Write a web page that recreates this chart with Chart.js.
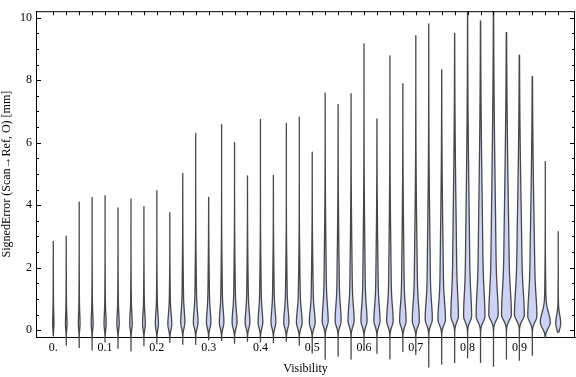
<!DOCTYPE html>
<html>
<head>
<meta charset="utf-8">
<script src="https://cdn.jsdelivr.net/npm/chart.js@4.4.0/dist/chart.umd.min.js"></script>
<style>
  html, body { margin: 0; padding: 0; background: #fff; }
</style>
</head>
<body>
<canvas id="chart" width="576" height="377"></canvas>
<script>
// Visibility bins, one violin each
const bins = [0.000, 0.025, 0.050, 0.075, 0.100, 0.125, 0.150, 0.175, 0.200, 0.225,
              0.250, 0.275, 0.300, 0.325, 0.350, 0.375, 0.400, 0.425, 0.450, 0.475,
              0.500, 0.525, 0.550, 0.575, 0.600, 0.625, 0.650, 0.675, 0.700, 0.725,
              0.750, 0.775, 0.800, 0.825, 0.850, 0.875, 0.900, 0.925, 0.950, 0.975];

// largest / smallest signed error per bin [mm]
const maxErr = [2.84, 3.01, 4.10, 4.24, 4.30, 3.91, 4.20, 3.95, 4.46, 3.76,
                5.02, 6.30, 4.25, 6.58, 6.01, 4.94, 6.75, 4.95, 6.62, 6.82,
                5.70, 7.59, 7.23, 7.57, 9.16, 6.76, 8.78, 7.89, 9.43, 9.80,
                8.34, 9.50, 10.6, 9.90, 10.5, 9.53, 8.80, 8.12, 5.39, 3.15];
const minErr = [-0.20, -0.50, -0.57, -0.65, -0.40, -0.60, -0.68, -0.52, -0.45, -0.40,
                -0.47, -0.48, -0.33, -0.35, -0.44, -0.37, -0.40, -0.42, -0.37, -0.50,
                -0.75, -0.95, -0.85, -0.94, -0.65, -0.76, -0.94, -0.70, -0.80, -1.20,
                -1.10, -1.05, -0.90, -1.05, -1.17, -0.94, -0.98, -0.82, -0.26, -0.08];

// density shape per bin: peak (relative), error at the peak, share of the long tail, spreads
const peakDensity = [0.10, 0.12, 0.13, 0.15, 0.16, 0.18, 0.19, 0.21, 0.24, 0.30,
                     0.32, 0.36, 0.34, 0.35, 0.38, 0.36, 0.36, 0.37, 0.40, 0.44,
                     0.45, 0.46, 0.46, 0.47, 0.47, 0.47, 0.50, 0.50, 0.54, 0.55,
                     0.58, 0.58, 0.62, 0.68, 0.72, 0.76, 0.76, 0.70, 0.77, 0.38];
const modeErr = [0.20, 0.20, 0.20, 0.20, 0.20, 0.20, 0.20, 0.20, 0.20, 0.20,
                 0.25, 0.25, 0.25, 0.25, 0.25, 0.25, 0.25, 0.25, 0.25, 0.25,
                 0.25, 0.30, 0.30, 0.30, 0.30, 0.30, 0.30, 0.30, 0.30, 0.35,
                 0.35, 0.45, 0.45, 0.45, 0.50, 0.50, 0.50, 0.45, 0.25, 0.22];
const tailShare = [0.35, 0.35, 0.35, 0.35, 0.35, 0.35, 0.35, 0.35, 0.35, 0.35,
                   0.40, 0.40, 0.40, 0.40, 0.40, 0.40, 0.40, 0.40, 0.40, 0.40,
                   0.40, 0.45, 0.45, 0.45, 0.45, 0.45, 0.45, 0.45, 0.50, 0.50,
                   0.50, 0.60, 0.60, 0.60, 0.60, 0.60, 0.60, 0.60, 0.15, 0.10];
const tailSpread = [1.0, 1.0, 1.0, 1.0, 1.0, 1.0, 1.0, 1.0, 1.0, 1.0,
                    1.5, 1.5, 1.5, 1.5, 1.5, 1.5, 1.5, 1.5, 1.5, 1.5,
                    1.6, 2.2, 2.2, 2.2, 2.4, 2.2, 2.4, 2.4, 2.6, 2.8,
                    2.8, 3.4, 3.6, 3.8, 4.0, 3.8, 3.4, 3.2, 1.2, 0.8];
const bulbSpread = [0.30, 0.30, 0.30, 0.30, 0.30, 0.30, 0.30, 0.30, 0.30, 0.30,
                    0.35, 0.35, 0.35, 0.35, 0.35, 0.35, 0.35, 0.35, 0.35, 0.35,
                    0.35, 0.45, 0.45, 0.45, 0.45, 0.45, 0.45, 0.45, 0.50, 0.50,
                    0.50, 0.65, 0.65, 0.70, 0.70, 0.70, 0.65, 0.60, 0.30, 0.25];

const xTicks = [0, 0.1, 0.2, 0.3, 0.4, 0.5, 0.6, 0.7, 0.8, 0.9];
const xTickLabels = ['0.', '0.1', '0.2', '0.3', '0.4', '0.5', '0.6', '0.7', '0.8', '0.9'];
const yTicks = [0, 2, 4, 6, 8, 10];

const BIN_HALF = 0.0125;   // half of the bin spacing, in visibility units
const LOW_SPREAD = 0.18;

function density(i, e) {
    const d = e - modeErr[i];
    if (d < 0) return peakDensity[i] * Math.exp(-0.5 * (d / LOW_SPREAD) ** 2);
    const t = tailShare[i];
    return peakDensity[i] * ((1 - t) * Math.exp(-0.5 * (d / bulbSpread[i]) ** 2) +
                             t * Math.exp(-0.5 * (d / tailSpread[i]) ** 2));
}

function violin(i) {
    const lo = minErr[i], hi = maxErr[i];
    const n = Math.ceil((hi - lo) / 0.04);
    const right = [], left = [];
    for (let k = 0; k <= n; k++) {
        const e = lo + (hi - lo) * k / n;
        const w = density(i, e) * BIN_HALF;
        right.push({x: bins[i] + w, y: e});
        left.unshift({x: bins[i] - w, y: e});
    }
    return right.concat(left);
}

// inward frame ticks, like the original frame
const frameTicks = {
    id: 'frameTicks',
    afterDraw(chart) {
        const {ctx, chartArea: a, scales: {x, y}} = chart;
        ctx.save();
        ctx.strokeStyle = '#000';
        ctx.lineWidth = 1;
        ctx.beginPath();
        ctx.moveTo(a.left, a.top + 0.5); ctx.lineTo(a.right, a.top + 0.5);
        ctx.moveTo(a.right - 0.5, a.top); ctx.lineTo(a.right - 0.5, a.bottom);
        for (let k = 0; k <= 20; k++) {
            const py = Math.round(y.getPixelForValue(k / 2)) + 0.5;
            const len = k % 4 === 0 ? 5 : 3;
            ctx.moveTo(a.left, py); ctx.lineTo(a.left + len, py);
            ctx.moveTo(a.right, py); ctx.lineTo(a.right - len, py);
        }
        bins.forEach(b => {
            const px = Math.round(x.getPixelForValue(b)) + 0.5;
            ctx.moveTo(px, a.top); ctx.lineTo(px, a.top + 4);
        });
        ctx.stroke();
        ctx.restore();
    }
};

const serif = {family: "'Liberation Serif', 'DejaVu Serif', serif", size: 12};

new Chart(document.getElementById('chart'), {
    type: 'scatter',
    data: {
        datasets: bins.map((b, i) => ({
            data: violin(i),
            showLine: true,
            pointRadius: 0,
            borderColor: '#484848',
            borderWidth: 1.3,
            backgroundColor: '#ccd3f5',
            fill: 'shape',
            tension: 0.05,
            capBezierPoints: false,
            clip: {left: false, right: false, bottom: false, top: 0}
        }))
    },
    options: {
        responsive: false,
        animation: false,
        devicePixelRatio: 1,
        events: [],
        layout: {padding: {top: 4, right: 1, left: 0, bottom: 0}},
        plugins: {legend: {display: false}, tooltip: {enabled: false}},
        scales: {
            x: {
                type: 'linear',
                min: -0.0334,
                max: 1.0074,
                bounds: 'data',
                afterBuildTicks: s => { s.ticks = xTicks.map(v => ({value: v})); },
                afterFit: s => { s.height = 40; },
                grid: {display: false, drawTicks: false},
                border: {display: true, color: '#000', width: 1},
                ticks: {
                    autoSkip: false, maxRotation: 0, padding: 4, color: '#000', font: serif,
                    callback: (v, idx) => xTickLabels[idx]
                },
                title: {display: true, text: 'Visibility', color: '#000', font: serif,
                        padding: {top: 0, bottom: 1}}
            },
            y: {
                type: 'linear',
                min: -0.22,
                max: 10.21,
                bounds: 'data',
                afterBuildTicks: s => { s.ticks = yTicks.map(v => ({value: v})); },
                afterFit: s => { s.width = 36; },
                grid: {display: false, drawTicks: false},
                border: {display: true, color: '#000', width: 1},
                ticks: {padding: 4, color: '#000', font: serif},
                title: {display: true, text: 'SignedError (Scan\u2192Ref, O) [mm]', color: '#000',
                        font: serif, padding: {top: 0, bottom: 0}}
            }
        }
    },
    plugins: [frameTicks]
});
</script>
</body>
</html>
